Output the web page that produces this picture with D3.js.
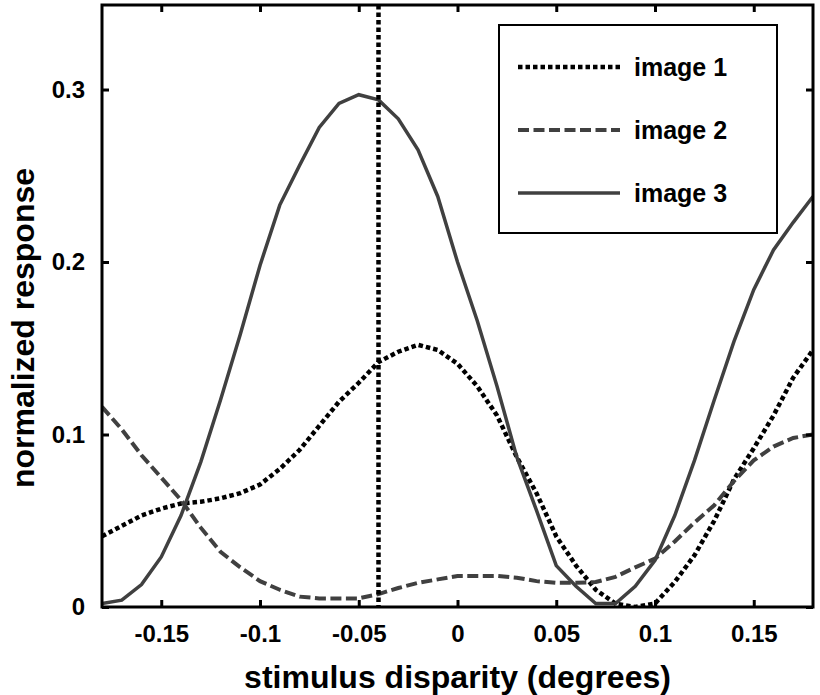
<!DOCTYPE html>
<html>
<head>
<meta charset="utf-8">
<script src="https://cdn.jsdelivr.net/npm/d3@7"></script>
<style>
    body { margin: 0; background: #fff; }
    svg text { font-family: "Liberation Sans", Arial, sans-serif; font-weight: bold; fill: #000; }
</style>
</head>
<body>
<script>
// disparity samples (degrees)
const disparity = [-0.18, -0.17, -0.16, -0.15, -0.14, -0.13, -0.12, -0.11, -0.10, -0.09,
    -0.08, -0.07, -0.06, -0.05, -0.04, -0.03, -0.02, -0.01, 0, 0.01,
    0.02, 0.03, 0.04, 0.05, 0.06, 0.07, 0.08, 0.09, 0.10, 0.11,
    0.12, 0.13, 0.14, 0.15, 0.16, 0.17, 0.18];

const image1 = [0.041, 0.047, 0.053, 0.057, 0.060, 0.061, 0.063, 0.066, 0.071, 0.080,
    0.091, 0.105, 0.119, 0.130, 0.142, 0.148, 0.152, 0.149, 0.141, 0.128,
    0.111, 0.087, 0.066, 0.041, 0.024, 0.010, 0.002, 0.000, 0.002, 0.0145,
    0.030, 0.050, 0.074, 0.092, 0.111, 0.133, 0.149];

const image2 = [0.116, 0.103, 0.088, 0.075, 0.062, 0.046, 0.032, 0.023, 0.015, 0.010,
    0.006, 0.005, 0.005, 0.005, 0.0075, 0.011, 0.014, 0.016, 0.018, 0.018,
    0.018, 0.017, 0.015, 0.014, 0.014, 0.0145, 0.0175, 0.023, 0.028, 0.038,
    0.049, 0.059, 0.073, 0.085, 0.093, 0.098, 0.100];

const image3 = [0.002, 0.004, 0.013, 0.029, 0.053, 0.084, 0.120, 0.158, 0.198, 0.233,
    0.256, 0.278, 0.292, 0.297, 0.294, 0.283, 0.265, 0.238, 0.200, 0.166,
    0.128, 0.087, 0.056, 0.024, 0.012, 0.002, 0.002, 0.012, 0.027, 0.053,
    0.085, 0.120, 0.154, 0.184, 0.207, 0.223, 0.238];

const markerDisparity = -0.04;

const xTicks = [-0.15, -0.1, -0.05, 0, 0.05, 0.1, 0.15];
const xTickLabels = ["-0.15", "-0.1", "-0.05", "0", "0.05", "0.1", "0.15"];
const yTicks = [0, 0.1, 0.2, 0.3];
const yTickLabels = ["0", "0.1", "0.2", "0.3"];

const seriesNames = ["image 1", "image 2", "image 3"];

const width = 820;
const height = 695;
const plotLeft = 102, plotRight = 813, plotTop = 5, plotBottom = 607;

const series = [
    { name: seriesNames[0], values: image1, color: "#000", dash: "4.5,3", w: 4.5 },
    { name: seriesNames[1], values: image2, color: "#404040", dash: "11,4.5", w: 4 },
    { name: seriesNames[2], values: image3, color: "#404040", dash: null, w: 3.5 }
];

const svg = d3.select("body")
    .append("svg")
    .attr("width", width)
    .attr("height", height);

const scaleX = d3.scaleLinear()
    .domain([-0.18, 0.18])
    .range([plotLeft, plotRight]);

const scaleY = d3.scaleLinear()
    .domain([0, 0.349])
    .range([plotBottom, plotTop]);

const line = d3.line()
    .x((d, i) => scaleX(disparity[i]))
    .y(d => scaleY(d));

svg.append("defs").append("clipPath")
    .attr("id", "plot-clip")
    .append("rect")
    .attr("x", plotLeft)
    .attr("y", plotTop)
    .attr("width", plotRight - plotLeft)
    .attr("height", plotBottom - plotTop);

const plot = svg.append("g").attr("clip-path", "url(#plot-clip)");

series.forEach(s => {
    plot.append("path")
        .datum(s.values)
        .attr("fill", "none")
        .attr("stroke", s.color)
        .attr("stroke-width", s.w)
        .attr("stroke-dasharray", s.dash)
        .attr("d", line);
});

// vertical marker
plot.append("line")
    .attr("x1", scaleX(markerDisparity))
    .attr("x2", scaleX(markerDisparity))
    .attr("y1", scaleY(0.349))
    .attr("y2", scaleY(0))
    .attr("stroke", "#000")
    .attr("stroke-width", 4.5)
    .attr("stroke-dasharray", "4.5,3");

// axes: inward ticks on all four sides
const tickLen = 7;
const axisStyle = g => {
    g.select(".domain").remove();
    g.selectAll(".tick line").attr("stroke", "#000").attr("stroke-width", 3);
    g.selectAll(".tick text").style("font-size", "24px");
};

svg.append("g")
    .attr("transform", `translate(0,${plotBottom})`)
    .call(d3.axisBottom(scaleX).tickValues(xTicks).tickSizeInner(-tickLen).tickPadding(18)
        .tickFormat((d, i) => xTickLabels[i]))
    .call(axisStyle);

svg.append("g")
    .attr("transform", `translate(0,${plotTop})`)
    .call(d3.axisTop(scaleX).tickValues(xTicks).tickSizeInner(-tickLen).tickFormat(""))
    .call(axisStyle);

svg.append("g")
    .attr("transform", `translate(${plotLeft},0)`)
    .call(d3.axisLeft(scaleY).tickValues(yTicks).tickSizeInner(-tickLen).tickPadding(17)
        .tickFormat((d, i) => yTickLabels[i]))
    .call(axisStyle);

svg.append("g")
    .attr("transform", `translate(${plotRight},0)`)
    .call(d3.axisRight(scaleY).tickValues(yTicks).tickSizeInner(-tickLen).tickFormat(""))
    .call(axisStyle);

svg.append("rect")
    .attr("x", plotLeft)
    .attr("y", plotTop)
    .attr("width", plotRight - plotLeft)
    .attr("height", plotBottom - plotTop)
    .attr("fill", "none")
    .attr("stroke", "#000")
    .attr("stroke-width", 3);

// legend
const legend = svg.append("g").attr("transform", "translate(499,25)");

legend.append("rect")
    .attr("width", 278)
    .attr("height", 208)
    .attr("fill", "#fff")
    .attr("stroke", "#000")
    .attr("stroke-width", 2);

series.forEach((s, i) => {
    const y = 42 + i * 63;
    legend.append("line")
        .attr("x1", 19)
        .attr("x2", 121)
        .attr("y1", y)
        .attr("y2", y)
        .attr("stroke", s.color)
        .attr("stroke-width", s.w)
        .attr("stroke-dasharray", s.dash);
    legend.append("text")
        .attr("x", 135)
        .attr("y", y + 9)
        .style("font-size", "25px")
        .text(s.name);
});

// axis titles
svg.append("text")
    .attr("x", (plotLeft + plotRight) / 2)
    .attr("y", 688)
    .attr("text-anchor", "middle")
    .style("font-size", "32px")
    .text("stimulus disparity (degrees)");

svg.append("text")
    .attr("transform", "rotate(-90)")
    .attr("x", -328)
    .attr("y", 34)
    .attr("text-anchor", "middle")
    .style("font-size", "32px")
    .text("normalized response");
</script>
</body>
</html>
